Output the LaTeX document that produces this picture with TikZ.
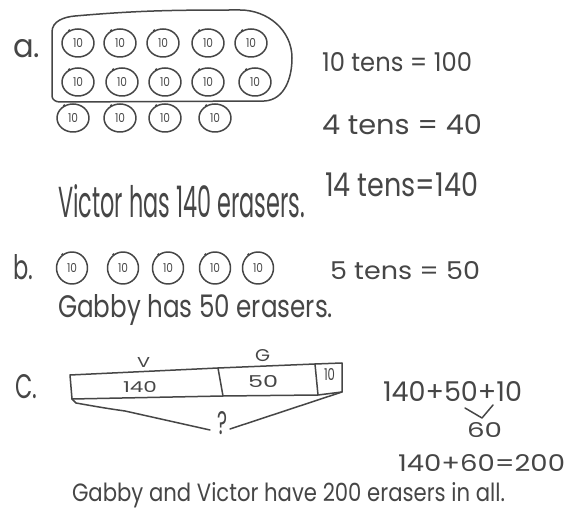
\documentclass[tikz,border=0pt]{standalone}
\usepackage{fontspec}
\usepackage{graphicx}
\setmainfont{Poppins}
\usetikzlibrary{shapes.geometric}
\definecolor{ink}{HTML}{464646}
\newcommand\hw[3]{\resizebox{#1pt}{#2pt}{#3}}
\tikzset{
  pen/.style={draw=ink, line width=1.5pt, line cap=round, line join=round},
  coinA/.style={ellipse, pen, minimum width=32pt, minimum height=28pt, inner sep=0pt, text=ink},
  coinB/.style={coinA, minimum width=31pt, minimum height=32pt},
  txt/.style={anchor=base west, inner sep=0pt, outer sep=0pt, text=ink},
}
\begin{document}
\begin{tikzpicture}[x=1pt,y=-1pt]
\fill[white] (0,0) rectangle (579,510);
\useasboundingbox (0,0) rectangle (579,510);

% ---- part a ----
\node[txt] (la) at (13,58) {\hw{27}{18}{a.}};
\draw[pen] (52,96) -- (52,32) to[out=90,in=185] (75,16) to[out=5,in=180] (240,10)
  to[out=0,in=90] (292,58) to[out=-90,in=5] (265,101) -- (60,102) to[out=180,in=-90] (52,96);
\foreach \x [count=\i] in {78,120,163,208,251}{
  \node[coinA] (r1c\i) at (\x,43) {\hw{10}{9}{10}};
  \fill[ink] (r1c\i.125) circle (1.4pt);
}
\foreach \x [count=\i] in {78,122,165,208,255}{
  \node[coinA] (r2c\i) at (\x,82) {\hw{10}{9}{10}};
  \fill[ink] (r2c\i.125) circle (1.4pt);
}
\foreach \x [count=\i] in {73,120,165,215}{
  \node[coinA] (r3c\i) at (\x,118) {\hw{10}{9}{10}};
  \fill[ink] (r3c\i.125) circle (1.4pt);
}
\node[txt] (t1) at (322,72) {\hw{150}{19}{10 tens = 100}};
\node[txt] (t2) at (322,135) {\hw{160}{20}{4 tens = 40}};
\node[txt] (t3) at (325,197) {\hw{153}{24}{14 tens=140}};
\node[txt] (vic) at (58,218) {\hw{247}{33}{Victor has 140 erasers.}};

% ---- part b ----
\node[txt] (lb) at (13,280) {\hw{20}{25}{b.}};
\foreach \x [count=\i] in {72,123,168,215,258}{
  \node[coinB] (bc\i) at (\x,268) {\hw{10}{9}{10}};
  \fill[ink] (bc\i.125) circle (1.4pt);
}
\node[txt] (t4) at (330,280) {\hw{150}{18}{5 tens = 50}};
\node[txt] (gab) at (58,318) {\hw{275}{23}{Gabby has 50 erasers.}};

% ---- part c ----
\node[txt] (lc) at (15,399) {\hw{22}{24}{C.}};
\node[txt] (lv) at (137,368) {\hw{13}{10}{V}};
\node[txt] (lg) at (255,362) {\hw{15}{12}{G}};
\coordinate (tl) at (70,375);
\coordinate (tm) at (218,368);
\coordinate (tb) at (315,364);
\coordinate (tr) at (342,363);
\coordinate (bl) at (72,399);
\coordinate (bm) at (223,396);
\coordinate (bb) at (318,395);
\coordinate (br) at (342,392);
\draw[pen] (tl) -- (tm) -- (tb) -- (tr) -- (br) -- (bb) -- (bm) -- (bl) -- cycle;
\draw[pen] (tm) -- (bm);
\draw[pen] (tb) -- (bb);
\node[txt] (n140) at (123,393) {\hw{34}{11}{140}};
\node[txt] (n50) at (248,388) {\hw{30}{12}{50}};
\node[txt] (n10) at (324,381) {\hw{11}{12}{10}};
\node[txt] (q) at (217,435) {\hw{10}{23}{?}};
\coordinate (qL) at (210,430);
\coordinate (qR) at (230,429);
\draw[pen] (bl) -- (76,403) to[out=-10,in=172] (125,411) -- (qL);
\draw[pen] (qR) -- (br);
\node[txt] (s1) at (383,402) {\hw{139}{20}{140+50+10}};
\coordinate (k1) at (465,408);
\coordinate (k2) at (482,418);
\coordinate (k3) at (493,405);
\draw[pen] (k1) -- (k2) -- (k3);
\node[txt] (s2) at (467,438) {\hw{35}{15}{60}};
\node[txt] (s3) at (398,472) {\hw{167}{17}{140+60=200}};
\node[txt] (fin) at (72,502) {\hw{433}{19}{Gabby and Victor have 200 erasers in all.}};
\end{tikzpicture}
\end{document}
